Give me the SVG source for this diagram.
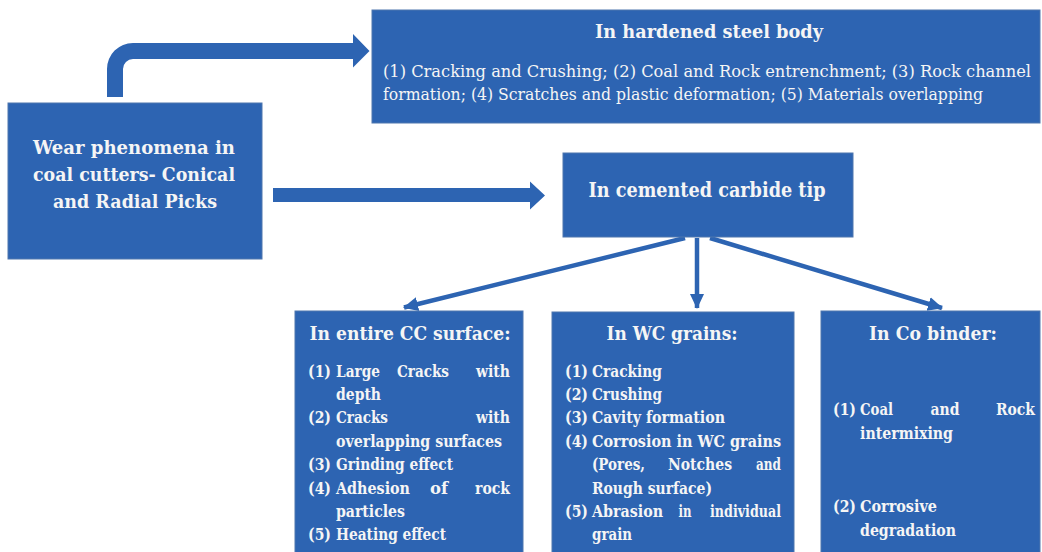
<svg xmlns="http://www.w3.org/2000/svg" width="1042" height="552" viewBox="0 0 1042 552">
<defs>
<style>
.box{fill:#2D64B2;stroke:#4F76AE;stroke-width:1}
.t{fill:#F5F5F5;font-family:"DejaVu Serif","Liberation Serif",serif}
.h{font-weight:bold}
.hm{font-weight:bold;font-size:19px}
.li{font-weight:bold;font-size:16px}
.bd{font-size:16px}
.m{text-anchor:middle}
.e{text-anchor:end}
.blk{fill:#2D64B2}
.conn{stroke:#2D64B2;stroke-width:4.5;fill:none}
</style>
<marker id="ah" markerUnits="userSpaceOnUse" markerWidth="16" markerHeight="16" viewBox="0 0 16 16" refX="14" refY="8" orient="auto">
<path d="M0,1 L15,8 L0,15 Z" fill="#2D64B2"/>
</marker>
</defs>
<rect width="1042" height="552" fill="#FFFFFF"/>

<g id="connectors">
<path class="blk" d="M107,97 L107,69 A26,26 0 0 1 133,43 L353,43 L353,34 L369.5,51 L353,67.5 L353,59 L133,59 A10,10 0 0 0 123,69 L123,97 Z"/>
<path class="blk" d="M273,188 H530 V181.5 L545,195.5 L530,209.5 V202 H273 Z"/>
<line class="conn" x1="685" y1="238" x2="404" y2="307.5" marker-end="url(#ah)"/>
<line class="conn" x1="697" y1="238" x2="697" y2="308" marker-end="url(#ah)"/>
<line class="conn" x1="710" y1="238" x2="942" y2="308" marker-end="url(#ah)"/>
</g>

<g id="node-main">
<rect class="box" x="8" y="103" width="254" height="156"/>
<text class="t h m" font-size="19" x="134" y="154" textLength="202" lengthAdjust="spacingAndGlyphs">Wear phenomena in</text>
<text class="t h m" font-size="19" x="134" y="181" textLength="202" lengthAdjust="spacingAndGlyphs">coal cutters- Conical</text>
<text class="t h m" font-size="19" x="135" y="208" textLength="164" lengthAdjust="spacingAndGlyphs">and Radial Picks</text>
</g>

<g id="node-steel">
<rect class="box" x="372" y="10" width="668" height="113"/>
<text class="t h m" font-size="18" x="709" y="38" textLength="228" lengthAdjust="spacingAndGlyphs">In hardened steel body</text>
<text class="t bd" x="383" y="77" textLength="648" lengthAdjust="spacingAndGlyphs">(1) Cracking and Crushing; (2) Coal and Rock entrenchment; (3) Rock channel</text>
<text class="t bd" x="383" y="100" textLength="600" lengthAdjust="spacingAndGlyphs">formation; (4) Scratches and plastic deformation; (5) Materials overlapping</text>
</g>

<g id="node-carbide">
<rect class="box" x="563" y="153" width="290" height="84"/>
<text class="t h m" font-size="20" x="707" y="197" textLength="237" lengthAdjust="spacingAndGlyphs">In cemented carbide tip</text>
</g>

<g id="node-cc">
<rect class="box" x="295" y="311" width="228" height="250"/>
<text class="t hm m" x="410" y="340" textLength="201" lengthAdjust="spacingAndGlyphs">In entire CC surface:</text>
<text class="t li" x="308" y="376.5" textLength="23" lengthAdjust="spacingAndGlyphs">(1)</text>
<text class="t li" x="336" y="376.5" textLength="44" lengthAdjust="spacingAndGlyphs">Large</text>
<text class="t li m" x="423" y="376.5" textLength="52" lengthAdjust="spacingAndGlyphs">Cracks</text>
<text class="t li e" x="510" y="376.5" textLength="34" lengthAdjust="spacingAndGlyphs">with</text>
<text class="t li" x="336" y="399.9" textLength="45" lengthAdjust="spacingAndGlyphs">depth</text>
<text class="t li" x="308" y="423.3" textLength="23" lengthAdjust="spacingAndGlyphs">(2)</text>
<text class="t li" x="336" y="423.3" textLength="52" lengthAdjust="spacingAndGlyphs">Cracks</text>
<text class="t li e" x="510" y="423.3" textLength="34" lengthAdjust="spacingAndGlyphs">with</text>
<text class="t li" x="336" y="446.7" textLength="166" lengthAdjust="spacingAndGlyphs">overlapping surfaces</text>
<text class="t li" x="308" y="470.1" textLength="23" lengthAdjust="spacingAndGlyphs">(3)</text>
<text class="t li" x="336" y="470.1" textLength="117" lengthAdjust="spacingAndGlyphs">Grinding effect</text>
<text class="t li" x="308" y="493.5" textLength="23" lengthAdjust="spacingAndGlyphs">(4)</text>
<text class="t li" x="336" y="493.5" textLength="74" lengthAdjust="spacingAndGlyphs">Adhesion</text>
<text class="t li m" x="439" y="493.5" textLength="18" lengthAdjust="spacingAndGlyphs">of</text>
<text class="t li e" x="510" y="493.5" textLength="35" lengthAdjust="spacingAndGlyphs">rock</text>
<text class="t li" x="336" y="516.9" textLength="69" lengthAdjust="spacingAndGlyphs">particles</text>
<text class="t li" x="308" y="540.3" textLength="23" lengthAdjust="spacingAndGlyphs">(5)</text>
<text class="t li" x="336" y="540.3" textLength="110" lengthAdjust="spacingAndGlyphs">Heating effect</text>
</g>

<g id="node-wc">
<rect class="box" x="552" y="312" width="242" height="250"/>
<text class="t hm m" x="672" y="340" textLength="131" lengthAdjust="spacingAndGlyphs">In WC grains:</text>
<text class="t li" x="565" y="376.5" textLength="23" lengthAdjust="spacingAndGlyphs">(1)</text>
<text class="t li" x="592" y="376.5" textLength="70" lengthAdjust="spacingAndGlyphs">Cracking</text>
<text class="t li" x="565" y="399.9" textLength="23" lengthAdjust="spacingAndGlyphs">(2)</text>
<text class="t li" x="592" y="399.9" textLength="70" lengthAdjust="spacingAndGlyphs">Crushing</text>
<text class="t li" x="565" y="423.3" textLength="23" lengthAdjust="spacingAndGlyphs">(3)</text>
<text class="t li" x="592" y="423.3" textLength="133" lengthAdjust="spacingAndGlyphs">Cavity formation</text>
<text class="t li" x="565" y="446.7" textLength="23" lengthAdjust="spacingAndGlyphs">(4)</text>
<text class="t li" x="592" y="446.7" textLength="189" lengthAdjust="spacingAndGlyphs">Corrosion in WC grains</text>
<text class="t li" x="592" y="470.1" textLength="53" lengthAdjust="spacingAndGlyphs">(Pores,</text>
<text class="t li m" x="700" y="470.1" textLength="64" lengthAdjust="spacingAndGlyphs">Notches</text>
<text class="t li e" x="781" y="470.1" textLength="25" lengthAdjust="spacingAndGlyphs">and</text>
<text class="t li" x="592" y="493.5" textLength="120" lengthAdjust="spacingAndGlyphs">Rough surface)</text>
<text class="t li" x="565" y="516.9" textLength="23" lengthAdjust="spacingAndGlyphs">(5)</text>
<text class="t li" x="592" y="516.9" textLength="71" lengthAdjust="spacingAndGlyphs">Abrasion</text>
<text class="t li m" x="685" y="516.9" textLength="13" lengthAdjust="spacingAndGlyphs">in</text>
<text class="t li e" x="781" y="516.9" textLength="71" lengthAdjust="spacingAndGlyphs">individual</text>
<text class="t li" x="592" y="540.3" textLength="40" lengthAdjust="spacingAndGlyphs">grain</text>
</g>

<g id="node-co">
<rect class="box" x="821" y="311" width="219" height="250"/>
<text class="t hm m" x="933" y="340" textLength="128" lengthAdjust="spacingAndGlyphs">In Co binder:</text>
<text class="t li" x="833" y="415" textLength="23" lengthAdjust="spacingAndGlyphs">(1)</text>
<text class="t li" x="860" y="415" textLength="33" lengthAdjust="spacingAndGlyphs">Coal</text>
<text class="t li m" x="945" y="415" textLength="29" lengthAdjust="spacingAndGlyphs">and</text>
<text class="t li e" x="1035" y="415" textLength="39" lengthAdjust="spacingAndGlyphs">Rock</text>
<text class="t li" x="860" y="439" textLength="93" lengthAdjust="spacingAndGlyphs">intermixing</text>
<text class="t li" x="833" y="512" textLength="23" lengthAdjust="spacingAndGlyphs">(2)</text>
<text class="t li" x="860" y="512" textLength="77" lengthAdjust="spacingAndGlyphs">Corrosive</text>
<text class="t li" x="860" y="536" textLength="96" lengthAdjust="spacingAndGlyphs">degradation</text>
</g>
</svg>
